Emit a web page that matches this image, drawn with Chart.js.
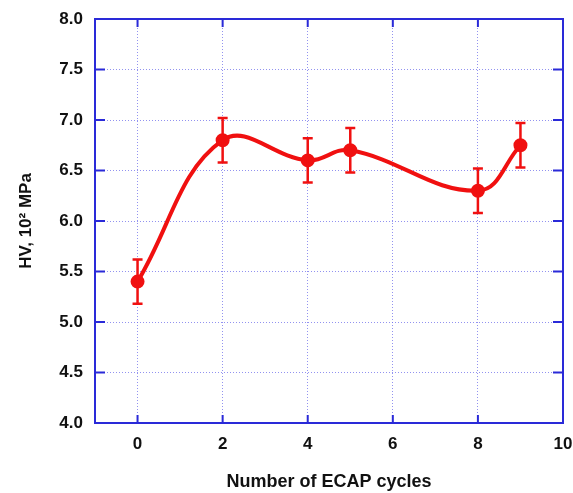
<!DOCTYPE html>
<html>
<head>
<meta charset="utf-8">
<script src="https://cdn.jsdelivr.net/npm/chart.js@4"></script>
<style>
  html, body { margin: 0; padding: 0; background: #fff; }
  #wrap { width: 573px; height: 493px; position: relative; }
</style>
</head>
<body>
<div id="wrap"><canvas id="hvChart" width="573" height="493"></canvas></div>
<script>
// Data
const cycles = [0, 2, 4, 5, 8, 9];
const hardness = [5.4, 6.8, 6.6, 6.7, 6.3, 6.75];
const errors = [0.22, 0.22, 0.22, 0.22, 0.22, 0.22];
const xTicks = [0, 2, 4, 6, 8, 10];
const yTicks = [4.0, 4.5, 5.0, 5.5, 6.0, 6.5, 7.0, 7.5, 8.0];

const axisBlue = '#2a2ad8';
const gridBlue = 'rgba(110, 110, 235, 0.75)';
const red = '#f01010';
const family = '"Liberation Sans", Arial, sans-serif';

// error bars, inward ticks and the frame
const extras = {
  id: 'extras',
  afterDatasetsDraw(chart) {
    const ctx = chart.ctx;
    const xs = chart.scales.x, ys = chart.scales.y;
    const area = chart.chartArea;
    ctx.save();
    // error bars
    ctx.strokeStyle = red;
    ctx.lineWidth = 2.5;
    cycles.forEach((c, i) => {
      const px = xs.getPixelForValue(c);
      const top = ys.getPixelForValue(hardness[i] + errors[i]);
      const bot = ys.getPixelForValue(hardness[i] - errors[i]);
      ctx.beginPath();
      ctx.moveTo(px, top); ctx.lineTo(px, bot);
      ctx.moveTo(px - 5, top); ctx.lineTo(px + 5, top);
      ctx.moveTo(px - 5, bot); ctx.lineTo(px + 5, bot);
      ctx.stroke();
    });
    // frame
    ctx.strokeStyle = axisBlue;
    ctx.lineWidth = 2;
    ctx.strokeRect(area.left, area.top, area.right - area.left, area.bottom - area.top);
    // inward ticks
    ctx.beginPath();
    xTicks.forEach(v => {
      const px = xs.getPixelForValue(v);
      ctx.moveTo(px, area.bottom); ctx.lineTo(px, area.bottom - 8);
      ctx.moveTo(px, area.top); ctx.lineTo(px, area.top + 8);
    });
    yTicks.forEach(v => {
      const py = ys.getPixelForValue(v);
      ctx.moveTo(area.left, py); ctx.lineTo(area.left + 10, py);
      ctx.moveTo(area.right, py); ctx.lineTo(area.right - 10, py);
    });
    ctx.stroke();
    ctx.restore();
  }
};

new Chart(document.getElementById('hvChart'), {
  type: 'scatter',
  data: {
    datasets: [{
      data: cycles.map((c, i) => ({ x: c, y: hardness[i] })),
      showLine: true,
      tension: 0.4,
      borderColor: red,
      backgroundColor: red,
      borderWidth: 4,
      pointRadius: 5,
      pointHoverRadius: 5
    }]
  },
  options: {
    responsive: false,
    animation: false,
    layout: { padding: { top: 19, right: 0, left: 0, bottom: 0 } },
    plugins: { legend: { display: false }, tooltip: { enabled: false } },
    scales: {
      x: {
        type: 'linear',
        min: -1,
        max: 10,
        afterBuildTicks(axis) { axis.ticks = xTicks.map(v => ({ value: v })); },
        afterFit(axis) { axis.height = 70; axis.paddingRight = 10; axis.paddingLeft = 0; },
        grid: {
          color: gridBlue,
          lineWidth: 1,
          drawTicks: false
        },
        border: { display: false, dash: [1, 2] },
        ticks: {
          color: '#111',
          font: { family: family, size: 17, weight: 'bold' },
          padding: 11,
          callback: v => String(v)
        },
        title: {
          display: true,
          text: 'Number of ECAP cycles',
          color: '#111',
          font: { family: family, size: 18, weight: 'bold' },
          padding: { top: 14, bottom: 0 }
        }
      },
      y: {
        min: 4,
        max: 8,
        afterBuildTicks(axis) { axis.ticks = yTicks.map(v => ({ value: v })); },
        afterFit(axis) { axis.width = 95; axis.paddingTop = 0; axis.paddingBottom = 0; },
        grid: {
          color: gridBlue,
          lineWidth: 1,
          drawTicks: false
        },
        border: { display: false, dash: [1, 2] },
        ticks: {
          color: '#111',
          font: { family: family, size: 17, weight: 'bold' },
          padding: 12,
          callback: v => v.toFixed(1)
        },
        title: {
          display: true,
          text: 'HV, 10² MPa',
          color: '#111',
          font: { family: family, size: 17, weight: 'bold' },
          padding: { top: 16, bottom: 0 }
        }
      }
    }
  },
  plugins: [extras]
});
</script>
</body>
</html>
